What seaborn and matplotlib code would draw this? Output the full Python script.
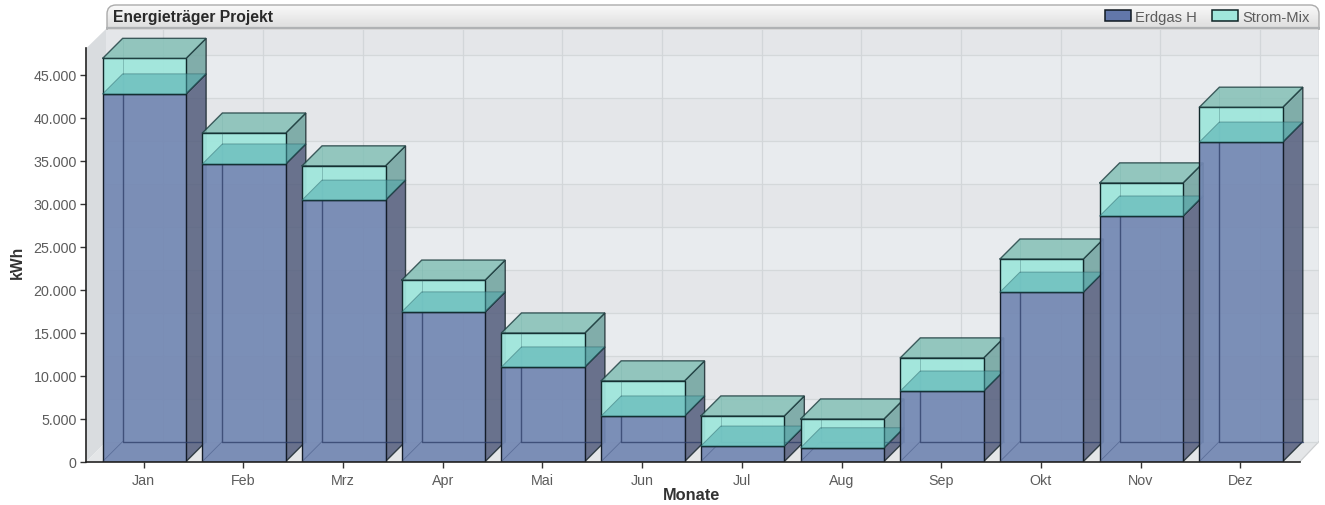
import numpy as np
import pandas as pd
import matplotlib
matplotlib.use("Agg")
import matplotlib.pyplot as plt
from matplotlib.patches import FancyBboxPatch, Patch, Rectangle
import seaborn as sns

months = ["Jan", "Feb", "Mrz", "Apr", "Mai", "Jun", "Jul", "Aug", "Sep", "Okt", "Nov", "Dez"]
erdgas = [42750, 34600, 30400, 17400, 11000, 5300, 1800, 1600, 8200, 19700, 28550, 37150]
strom = [4130, 3600, 3980, 3700, 3950, 4080, 3500, 3350, 3850, 3850, 3850, 4050]
y_ticks = [0, 5000, 10000, 15000, 20000, 25000, 30000, 35000, 40000, 45000]

W, H = 1325, 506
sns.set_theme(style="white")
plt.rcParams["font.family"] = ["Liberation Sans", "DejaVu Sans"]

fig = plt.figure(figsize=(W / 100, H / 100), dpi=100, facecolor="white")
# layout in pixels
L, R, B, T = 86.5, 1319.0, 462.5, 29.5
ax = fig.add_axes([L / W, 1 - B / H, (R - L) / W, (B - T) / H])
ax.set_facecolor("none")
PX_X, X0 = 99.7, 144.4
PX_Y = 8.6 / 1000
dx, dy = 20 / PX_X, 20 / PX_Y
xmin, xmax = (L - X0) / PX_X, (R - X0) / PX_X
xfloor = (1300 - X0) / PX_X
ymax = (B - T) / PX_Y
ywall = (B - 49) / PX_Y

df = pd.DataFrame({"Monat": months, "Erdgas H": erdgas, "Strom-Mix": strom})
bw = 0.837

# front faces through seaborn
GAS_F, ST_F = "#7388b3", "#a0e6dc"
sns.barplot(data=df, x="Monat", y="Erdgas H", order=months, color=GAS_F, saturation=1,
            width=bw, ax=ax, edgecolor="#111a22", linewidth=1.0)
n_gas = len(ax.patches)
sns.barplot(data=df, x="Monat", y="Strom-Mix", order=months, color=ST_F, saturation=1,
            width=bw, bottom=erdgas, ax=ax, edgecolor="#0f2426", linewidth=1.0)
for i, p in enumerate(ax.patches):
    col = i % 12
    p.set_alpha(None)
    if i < n_gas:
        p.set_facecolor((*matplotlib.colors.to_rgb(GAS_F), 0.93))
        p.set_edgecolor("#141c28")
        p.set_zorder(10 + col * 10 + 3)
    else:
        p.set_facecolor((*matplotlib.colors.to_rgb(ST_F), 0.95))
        p.set_edgecolor("#10282a")
        p.set_zorder(10 + col * 10 + 5)

ax.set_xlim(xmin, xmax)
ax.set_ylim(0, ymax)

# walls and floor
ax.fill([xmin, xmin + dx, xmin + dx, xmin], [0, dy, ymax, ywall], color="#d9dcdf", lw=0, zorder=1)
ax.fill([xmin, xmin + dx, xmax, xfloor], [0, dy, dy, 0], color="#e4e6e8", lw=0, zorder=1)
ax.plot([xfloor, xmax], [0, dy], color="#cdcfd1", lw=0.9, zorder=1.2)
ax.add_patch(Rectangle((xmin + dx, dy), xmax - xmin - dx, ymax - dy, color="#e8ebee", lw=0, zorder=1))
for k in range(1, len(y_ticks), 2):
    ax.add_patch(Rectangle((xmin + dx, y_ticks[k] + dy), xmax - xmin - dx, y_ticks[1],
                           color="#e4e6e9", lw=0, zorder=1.1))
ax.plot([xmax, xmax], [dy, ymax], color="#c3c6c8", lw=1.0, zorder=1.3)
for v in y_ticks:
    ax.plot([xmin + dx, xmax], [v + dy, v + dy], color="#d4d8da", lw=0.9, zorder=2)
for i in range(12):
    ax.plot([i + dx - 0.01, i + dx - 0.01], [dy, ymax], color="#d2d6d9", lw=0.9, zorder=2)

# 3D parts of each box
def quad(xs, ys, fc, alpha, z, ec="#16242a", lw=1.0, ea=0.8):
    ax.fill(xs, ys, facecolor=fc, alpha=alpha, edgecolor="none", zorder=z)
    ax.plot(list(xs) + [xs[0]], list(ys) + [ys[0]], color=ec, lw=lw, alpha=ea, zorder=z + 0.1,
            solid_joinstyle="miter")

for i, (g, s) in enumerate(zip(erdgas, strom)):
    x0, x1 = i - bw / 2, i + bw / 2
    top = g + s
    base = 10 + i * 10
    # hidden back edges of the gas box
    ax.plot([x0 + dx, x0 + dx, x1 + dx], [g + dy, dy, dy], color="#2c3c66", lw=1.0, alpha=0.75, zorder=base + 4)
    ax.plot([x0, x0 + dx], [0, dy], color="#3d4f7c", lw=0.6, alpha=0.5, zorder=base + 4)
    # right sides
    quad([x1, x1 + dx, x1 + dx, x1], [0, dy, g + dy, g], "#535d7c", 0.85, base + 1)
    quad([x1, x1 + dx, x1 + dx, x1], [g, g + dy, top + dy, top], "#6fa39e", 0.85, base + 1)
    # floor of the electricity box, seen through the front
    quad([x0, x0 + dx, x1 + dx, x1], [g, g + dy, g + dy, g], "#4aa6aa", 0.5, base + 6,
         ec="#245a60", lw=0.7, ea=0.45)
    ax.plot([x0 + dx, x0 + dx], [g + dy, top + dy], color="#2b5c60", lw=0.6, alpha=0.35, zorder=base + 6)
    # top
    quad([x0, x0 + dx, x1 + dx, x1], [top, top + dy, top + dy, top], "#84c0b6", 0.85, base + 7,
         ec="#1c3c3e", lw=1.0)

# axes decoration
sns.despine(ax=ax, top=True, right=True)
ax.spines["left"].set_bounds(0, ywall)
ax.spines["bottom"].set_bounds(xmin, xfloor)
for sp in ("left", "bottom"):
    ax.spines[sp].set_color("#222222")
    ax.spines[sp].set_linewidth(1.2)
    ax.spines[sp].set_zorder(300)
ax.set_yticks(y_ticks)
ax.set_yticklabels([f"{v:,}".replace(",", ".") for v in y_ticks])
ax.set_xticks(np.arange(12) - 0.008)
ax.set_xticklabels(months)
ax.tick_params(axis="both", which="major", left=True, bottom=True, length=4, width=1,
               color="#333333", labelcolor="#5c5c5c", labelsize=10.3, pad=5)
ax.tick_params(axis="y", pad=3)
ax.tick_params(axis="x", pad=4)
ax.set_xlabel("")
ax.set_ylabel("")
fig.text(692 / W, 1 - 495.5 / H, "Monate", ha="center", va="center", fontsize=11.8,
         fontweight="bold", color="#333333")
fig.text(17 / W, 1 - 262.5 / H, "kWh", ha="center", va="center", rotation=90, fontsize=11.3,
         fontweight="bold", color="#333333")

# title bar with gradient
tb = fig.add_axes([106 / W, 1 - 30.5 / H, (1320 - 106) / W, 25.5 / H])
tb.set_xlim(0, 1214)
tb.set_ylim(25.5, 0)
tb.axis("off")
grad = np.linspace(0.98, 0.86, 64).reshape(-1, 1)
im = tb.imshow(grad, extent=[0, 1214, 25.5, 0], cmap="gray", vmin=0, vmax=1, aspect="auto")
box = FancyBboxPatch((1, 1), 1212, 34, boxstyle="round,pad=0,rounding_size=9",
                     facecolor="none", edgecolor="#ababab", lw=1.0)
tb.add_patch(box)
im.set_clip_path(box)
tb.plot([0, 1214], [24.3, 24.3], color="#b0b2b4", lw=1.6)
tb.text(7, 13, "Energieträger Projekt", fontsize=11.3, fontweight="bold", color="#2a2a2a",
        ha="left", va="center")

handles = [Patch(facecolor="#6277aa", edgecolor="#111a22", lw=1.1, label="Erdgas H"),
           Patch(facecolor="#a0e6dc", edgecolor="#0f2426", lw=1.1, label="Strom-Mix")]
leg = tb.legend(handles=handles, ncols=2, frameon=False, loc="center right",
                bbox_to_anchor=(1203.5 / 1214, 0.5), borderaxespad=0, borderpad=0,
                fontsize=10.6, labelcolor="#5c5c5c", handlelength=1.75, handleheight=0.75,
                handletextpad=0.3, columnspacing=1.0)

fig.savefig("out.png", dpi=100, facecolor="white")
